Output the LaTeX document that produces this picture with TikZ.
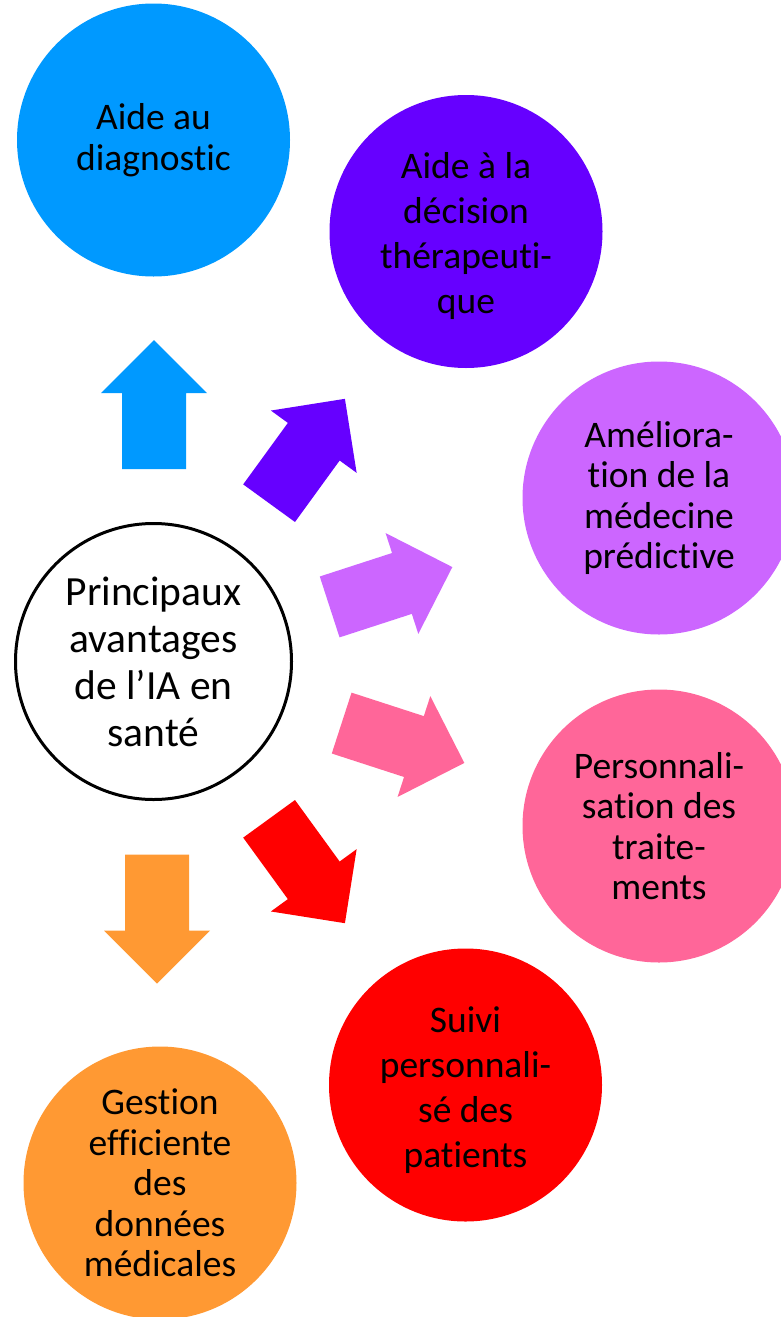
\documentclass[tikz,border=0pt]{standalone}
\usepackage{fontspec}
\setmainfont[Ligatures={NoCommon}]{Carlito}
\definecolor{cBlue}{HTML}{0099FF}
\definecolor{cViolet}{HTML}{6600FF}
\definecolor{cLilac}{HTML}{CC66FF}
\definecolor{cPink}{HTML}{FF6699}
\definecolor{cRed}{HTML}{FF0000}
\definecolor{cOrange}{HTML}{FF9933}
\begin{document}
\begin{tikzpicture}[x=1pt,y=-1pt,
  bubble/.style={circle, minimum size=273pt, inner sep=0pt, align=center, text=black, font=\fontsize{37.5}{40.5}\selectfont},
  widelabel/.style={inner sep=0pt, align=center, text=black, font=\fontsize{37.5}{45}\selectfont},
  hub/.style={circle, minimum size=276pt, inner sep=0pt, align=center, draw=black, line width=3pt, fill=white, font=\fontsize{41.5}{47}\selectfont},
  blockarrow/.pic={\path[pic actions] (-64.5,-32) -- (11.5,-32) -- (11.5,-53) -- (64.5,0) -- (11.5,53) -- (11.5,32) -- (-64.5,32) -- cycle;}
]
\useasboundingbox (0,0) rectangle (781,1317);
\clip (0,0) rectangle (781,1317);
\fill[white] (0,0) rectangle (781,1317);

% satellites
\node[bubble, fill=cBlue] (diag) at (153.5,140) {Aide au\\diagnostic};
\node[bubble, fill=cViolet] (deci) at (466,231.5) {};
\node[widelabel] (deciT) at ([yshift=-4pt]deci.center) {Aide à la\\décision\\thérapeuti-\\que};
\node[bubble, fill=cLilac] (pred) at (659,498) {Améliora-\\tion de la\\médecine\\prédictive};
\node[bubble, fill=cPink] (pers) at (659,826) {Personnali-\\sation des\\traite-\\ments};
\node[bubble, fill=cRed] (suivi) at (465.5,1085) {};
\node[widelabel] (suiviT) at ([yshift=-5pt]suivi.center) {Suivi\\personnali-\\sé des\\patients};
\node[bubble, fill=cOrange] (gest) at (160,1183) {Gestion\\efficiente\\des\\données\\médicales};

% hub
\node[hub] (hub) at (153.5,661.5) {Principaux\\avantages\\de l’IA en\\santé};

% block arrows
\coordinate (aDiag) at (154,404.5);
\coordinate (aDeci) at (307,451);
\coordinate (aPred) at (391,587);
\coordinate (aPers) at (403,743);
\coordinate (aSuivi) at (307,871);
\coordinate (aGest) at (157,919);
\pic[fill=cBlue, rotate=90] at (aDiag) {blockarrow};
\pic[fill=cViolet, rotate=54] at (aDeci) {blockarrow};
\pic[fill=cLilac, rotate=18] at (aPred) {blockarrow};
\pic[fill=cPink, rotate=-18] at (aPers) {blockarrow};
\pic[fill=cRed, rotate=-54] at (aSuivi) {blockarrow};
\pic[fill=cOrange, rotate=-90] at (aGest) {blockarrow};
\end{tikzpicture}
\end{document}
